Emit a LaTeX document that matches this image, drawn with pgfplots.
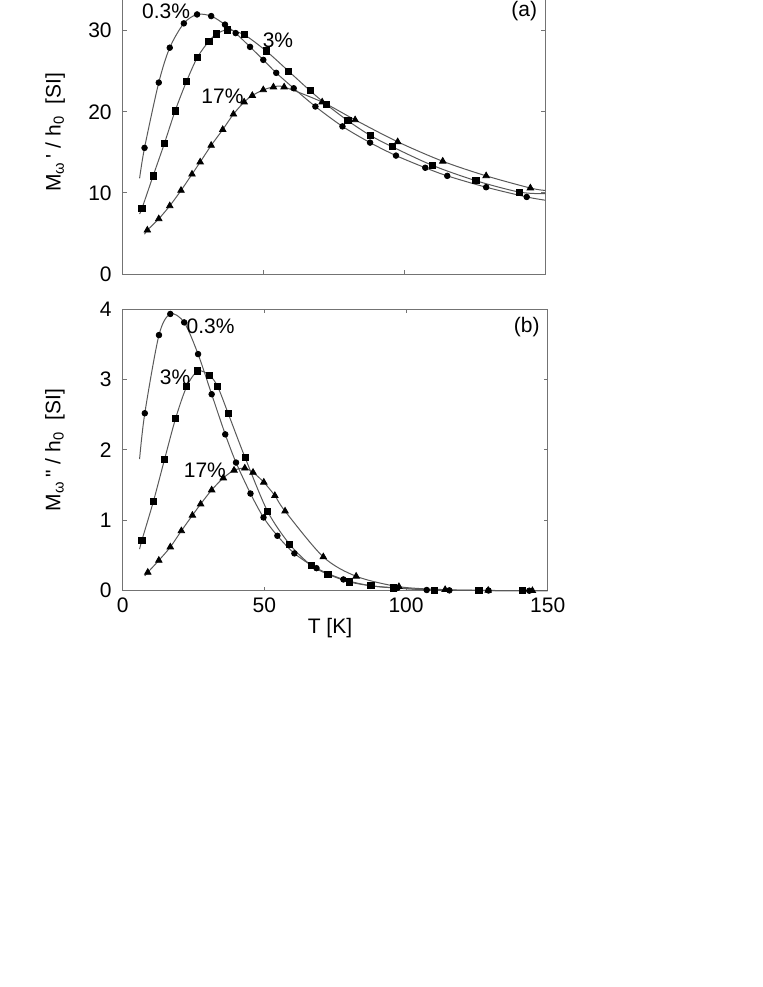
\documentclass[border=0pt]{standalone}
\usepackage{fontspec}
\setmainfont{Liberation Sans}
\newfontfamily\plainsf{Liberation Sans}
\usepackage{pgfplots}
\pgfplotsset{compat=1.18}

\pgfplotstableread{
x y
6.0 11.8
7.75 15.55
12.8 23.6
16.7 27.9
21.7 30.9
26.4 32.0
31.4 31.8
36.3 30.75
40.1 29.7
45.2 28.0
49.9 26.4
54.5 24.8
60.7 22.9
68.4 20.65
78.0 18.2
87.8 16.2
97.0 14.6
107.4 13.1
115.2 12.1
129.0 10.7
143.4 9.5
150 9.1
}\topA
\pgfplotstableread{
x y
6.0 7.4
6.85 8.1
10.8 12.1
14.8 16.1
18.6 20.1
22.6 23.7
26.5 26.7
30.6 28.7
33.4 29.6
37.2 30.1
43.1 29.5
50.9 27.5
58.9 25.0
66.5 22.6
72.3 20.9
79.9 18.9
87.8 17.1
95.6 15.7
109.9 13.4
125.4 11.5
140.8 10.1
150 9.9
}\topB
\pgfplotstableread{
x y
7.75 4.9
8.75 5.4
12.8 6.8
16.7 8.4
20.7 10.3
24.6 12.3
27.5 13.8
31.4 15.85
35.5 17.8
39.3 19.7
43.1 21.2
46.0 22.0
49.9 22.7
53.5 23.05
57.3 23.05
70.8 21.2
82.5 19.0
97.6 16.3
113.6 13.9
129.0 12.1
144.7 10.6
150 10.3
}\topC
\pgfplotstableread{
x y
5.96 1.87
7.8 2.52
12.8 3.63
16.8 3.93
21.7 3.81
26.6 3.36
31.4 2.79
36.2 2.22
40.0 1.82
45.1 1.38
49.7 1.04
54.6 0.78
60.6 0.53
68.4 0.32
77.9 0.16
87.6 0.07
97.0 0.04
107.3 0.01
115.3 0.005
129.1 0.003
143.5 0.0
150 0.0
}\botA
\pgfplotstableread{
x y
5.96 0.59
6.8 0.72
10.85 1.27
14.8 1.87
18.7 2.45
22.6 2.90
26.5 3.12
30.6 3.06
33.5 2.90
37.2 2.52
43.2 1.89
51.1 1.13
58.9 0.66
66.5 0.36
72.4 0.235
80.0 0.125
87.6 0.07
95.5 0.04
110.0 0.01
125.7 0.003
141.2 0.0
150 0.0
}\botB
\pgfplotstableread{
x y
7.8 0.21
8.85 0.26
12.75 0.43
16.8 0.62
20.7 0.85
24.6 1.07
27.5 1.23
31.4 1.43
35.5 1.60
39.3 1.71
43.1 1.74
46.0 1.68
49.8 1.54
53.7 1.35
57.3 1.13
70.8 0.48
82.4 0.205
97.5 0.057
113.8 0.015
129.0 0.004
144.6 0.0
150 0.0
}\botC

\begin{document}
\begin{tikzpicture}
\pgfplotsset{
  every axis/.append style={
    scale only axis,
    anchor=south west,
    font=\fontsize{10.5}{12.6}\selectfont,
    xmin=0, xmax=150,
    xtick={0,50,100,150},
    tick align=inside,
    major tick length=2pt,
    axis line style={black!55, line width=0.5pt},
    every tick/.style={black!55, line width=0.5pt},
    /pgf/number format/assume math mode=true,
    yticklabel style={xshift=-2pt},
    clip=false,
  },
  curve/.style={no marks, smooth, black!65, line width=0.5pt},
  data/.style={only marks, black, skip coords between index={0}{1}, skip coords between index={21}{22}},
  pc/.style={data, mark=*, mark size=1.4pt},
  ps/.style={data, mark=square*, mark size=1.55pt},
  pt/.style={data, mark=triangle*, mark size=1.85pt},
}
% top panel (a)
\begin{axis}[
  at={(61.35pt,-137pt)},
  width=211.3pt, height=141.95pt,
  ymin=0, ymax=35,
  ytick={0,10,20,30},
  xticklabels={},
  ylabel={M\textsubscript{ω}{\plainsf\,'} / h\textsubscript{0}\ \ [SI]},
  ylabel style={at={(axis description cs:-0.16,0.5)}, anchor=center},
]
\addplot[curve] table[x=x,y=y] {\topA};
\addplot[curve] table[x=x,y=y] {\topB};
\addplot[curve] table[x=x,y=y] {\topC};
\addplot[pc] table[x=x,y=y] {\topA};
\addplot[ps] table[x=x,y=y] {\topB};
\addplot[pt] table[x=x,y=y] {\topC};
\node at (axis cs:15.4,32.45) {0.3\%};
\node at (axis cs:55.1,28.85) {3\%};
\node at (axis cs:35.4,21.95) {17\%};
\node at (axis cs:142.5,32.4) {(a)};
\end{axis}
% bottom panel (b)
\begin{axis}[
  at={(61.35pt,-295.35pt)},
  width=212.5pt, height=140.85pt,
  ymin=0, ymax=4,
  ytick={0,1,2,3,4},
  xlabel={T [K]},
  xlabel style={at={(axis description cs:0.5,0)}, anchor=center, yshift=-18.65pt, xshift=-2.6pt},
  ylabel={M\textsubscript{ω}{\plainsf\,"} / h\textsubscript{0}\ \ [SI]},
  ylabel style={at={(axis description cs:-0.1593,0.5)}, anchor=center},
]
\addplot[curve] table[x=x,y=y] {\botA};
\addplot[curve] table[x=x,y=y] {\botB};
\addplot[curve] table[x=x,y=y] {\botC};
\addplot[pc] table[x=x,y=y] {\botA};
\addplot[ps] table[x=x,y=y] {\botB};
\addplot[pt] table[x=x,y=y] {\botC};
\node at (axis cs:31.0,3.76) {0.3\%};
\node at (axis cs:18.5,3.03) {3\%};
\node at (axis cs:29.0,1.71) {17\%};
\node at (axis cs:142.6,3.75) {(b)};
\end{axis}
\pgfresetboundingbox
\useasboundingbox (0,0) rectangle (381.5pt,-493.5pt);
\end{tikzpicture}
\end{document}
